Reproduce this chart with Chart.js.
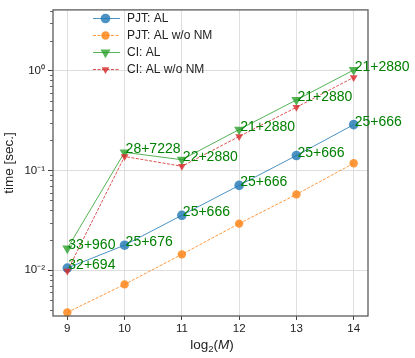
<!DOCTYPE html>
<html>
<head>
<meta charset="utf-8">
<script src="https://cdn.jsdelivr.net/npm/chart.js@4"></script>
<style>
  html, body { margin: 0; padding: 0; background: #fff; }
  #wrap { width: 415px; height: 358px; }
</style>
</head>
<body>
<div id="wrap"><canvas id="c" width="415" height="358"></canvas></div>
<script>
// ---- data ----
const xVals = [9, 10, 11, 12, 13, 14];
const pjtAL = [0.0105, 0.0178, 0.0355, 0.0708, 0.141, 0.288];
const pjtALnoNM = [0.00377, 0.0072, 0.0144, 0.0293, 0.0575, 0.118];
const ciAL = [0.0165, 0.152, 0.128, 0.257, 0.509, 1.016];
const ciALnoNM = [0.0098, 0.138, 0.110, 0.219, 0.43, 0.857];
const ciLabels = ['33+960', '28+7228', '22+2880', '21+2880', '21+2880', '21+2880'];
const pjtLabels = ['32+694', '25+676', '25+666', '25+666', '25+666', '25+666'];
const seriesNames = ['PJT: AL', 'PJT: AL w/o NM', 'CI: AL', 'CI: AL w/o NM'];
const yTickValues = [0.01, 0.1, 1];
const yTickLabels = ['10\u207B\u00B2', '10\u207B\u00B9', '10\u2070'];
const xAxisTitle = ['log', '2', '(', 'M', ')'];
const yAxisTitle = 'time [sec.]';

const FONT = '"Liberation Sans", Arial, Helvetica, sans-serif';

function pts(ys) { return xVals.map((x, i) => ({ x: x, y: ys[i] })); }

const styles = [
  { color: 'rgba(31,119,180,0.8)', dash: [], shape: 'circle', r: 4.8, rot: 0 },
  { color: 'rgba(255,127,14,0.8)', dash: [3, 1.5], shape: 'circle', r: 4.2, rot: 0 },
  { color: 'rgba(44,160,44,0.8)', dash: [], shape: 'triangle', r: 5.8, rot: 180 },
  { color: 'rgba(214,39,40,0.8)', dash: [3, 1.5], shape: 'triangle', r: 4.5, rot: 180 }
];
const seriesData = [pjtAL, pjtALnoNM, ciAL, ciALnoNM];

const datasets = seriesData.map((d, i) => ({
  label: seriesNames[i],
  data: pts(d),
  borderColor: styles[i].color,
  backgroundColor: styles[i].color,
  borderWidth: 1,
  borderDash: styles[i].dash,
  pointStyle: styles[i].shape,
  pointRotation: styles[i].rot,
  pointRadius: styles[i].r,
  pointBorderWidth: 0,
  pointBackgroundColor: styles[i].color,
  tension: 0,
  order: 4 - i,
  clip: false
}));

function isPow10(v) {
  const l = Math.log10(v);
  return Math.abs(l - Math.round(l)) < 1e-9;
}

const deco = {
  id: 'deco',
  beforeDraw(chart) {
    const ctx = chart.ctx;
    ctx.save();
    ctx.fillStyle = '#fff';
    ctx.fillRect(0, 0, chart.width, chart.height);
    ctx.restore();
  },
  afterDatasetsDraw(chart) {
    const ctx = chart.ctx;
    const a = chart.chartArea;
    const ys = chart.scales.y;
    // minor ticks on log axis
    ctx.save();
    ctx.strokeStyle = '#444';
    ctx.lineWidth = 0.8;
    const lo = Math.floor(Math.log10(ys.min)), hi = Math.ceil(Math.log10(ys.max));
    for (let e = lo; e <= hi; e++) {
      for (let m = 2; m <= 9; m++) {
        const v = m * Math.pow(10, e);
        if (v < ys.min || v > ys.max) continue;
        const py = Math.round(ys.getPixelForValue(v)) + 0.5;
        ctx.beginPath();
        ctx.moveTo(a.left - 3, py);
        ctx.lineTo(a.left, py);
        ctx.stroke();
      }
    }
    // frame
    ctx.strokeStyle = '#555';
    ctx.lineWidth = 1.25;
    ctx.strokeRect(a.left, a.top, a.right - a.left, a.bottom - a.top);
    ctx.restore();
  },
  afterDraw(chart) {
    const ctx = chart.ctx;
    const a = chart.chartArea;
    ctx.save();
    // annotations
    ctx.fillStyle = '#008000';
    ctx.font = '14px ' + FONT;
    ctx.textAlign = 'left';
    ctx.textBaseline = 'alphabetic';
    const annot = [[2, ciLabels], [0, pjtLabels]];
    annot.forEach(([di, labels]) => {
      const meta = chart.getDatasetMeta(di);
      meta.data.forEach((p, i) => {
        ctx.fillText(labels[i], p.x + 1, p.y + 1);
      });
    });
    // legend
    const rowY = [18.5, 35.5, 52.5, 69.5];
    const lx0 = 93, lx1 = 120, mx = 105.5, tx = 127;
    chart.data.datasets.forEach((ds, i) => {
      const y = rowY[i];
      ctx.save();
      ctx.strokeStyle = ds.borderColor;
      ctx.lineWidth = 1;
      ctx.setLineDash(ds.borderDash || []);
      ctx.beginPath();
      ctx.moveTo(lx0, y);
      ctx.lineTo(lx1, y);
      ctx.stroke();
      ctx.setLineDash([]);
      ctx.fillStyle = ds.pointBackgroundColor;
      ctx.strokeStyle = ds.pointBackgroundColor;
      Chart.helpers.drawPoint(ctx, {
        pointStyle: ds.pointStyle,
        rotation: ds.pointRotation,
        radius: ds.pointRadius,
        borderWidth: 0
      }, mx, y);
      ctx.restore();
      ctx.fillStyle = '#222';
      ctx.font = '12px ' + FONT;
      ctx.textBaseline = 'middle';
      ctx.fillText(ds.label, tx, y + 0.5);
    });
    // x axis title with subscript and italic
    const parts = [
      { t: xAxisTitle[0], f: '13.5px ' + FONT, dy: 0 },
      { t: xAxisTitle[1], f: '9.5px ' + FONT, dy: 3 },
      { t: xAxisTitle[2], f: '13.5px ' + FONT, dy: 0 },
      { t: xAxisTitle[3], f: 'italic 13.5px ' + FONT, dy: 0 },
      { t: xAxisTitle[4], f: '13.5px ' + FONT, dy: 0 }
    ];
    let w = 0;
    parts.forEach(p => { ctx.font = p.f; p.w = ctx.measureText(p.t).width; w += p.w; });
    let x = (a.left + a.right) / 2 + 1.5 - w / 2;
    const base = 348.5;
    ctx.fillStyle = '#222';
    ctx.textBaseline = 'alphabetic';
    parts.forEach(p => { ctx.font = p.f; ctx.fillText(p.t, x, base + p.dy); x += p.w; });
    ctx.restore();
  }
};

new Chart(document.getElementById('c'), {
  type: 'line',
  data: { datasets: datasets },
  plugins: [deco],
  options: {
    responsive: false,
    animation: false,
    devicePixelRatio: 1,
    layout: { padding: { top: 9, right: 47, left: 0, bottom: 0 } },
    plugins: { legend: { display: false }, tooltip: { enabled: false } },
    scales: {
      x: {
        type: 'linear',
        min: 8.75,
        max: 14.25,
        afterFit(s) { s.height = 42; },
        afterBuildTicks(s) { s.ticks = xVals.map(v => ({ value: v })); },
        grid: { color: '#dedede', lineWidth: 1, drawTicks: true, tickLength: 4, tickColor: '#444' },
        border: { display: false },
        ticks: {
          autoSkip: false,
          maxRotation: 0,
          padding: 2,
          color: '#222',
          font: { family: FONT, size: 11.5 },
          callback: v => String(v)
        }
      },
      y: {
        type: 'logarithmic',
        min: 0.00347,
        max: 4.07,
        afterFit(s) { s.width = 53; },
        afterBuildTicks(s) { s.ticks = yTickValues.map(v => ({ value: v, major: true })); },
        grid: { color: '#dedede', lineWidth: 1, drawTicks: true, tickLength: 5, tickColor: '#444' },
        border: { display: false },
        ticks: {
          autoSkip: false,
          padding: 3,
          color: '#222',
          font: { family: FONT, size: 11.5 },
          callback: (v) => {
            const i = yTickValues.findIndex(t => Math.abs(t - v) / t < 1e-9);
            return i >= 0 ? yTickLabels[i] : '';
          }
        },
        title: {
          display: true,
          text: yAxisTitle,
          color: '#222',
          font: { family: FONT, size: 13.5 },
          padding: { top: 1, bottom: 0 }
        }
      }
    }
  }
});
</script>
</body>
</html>
